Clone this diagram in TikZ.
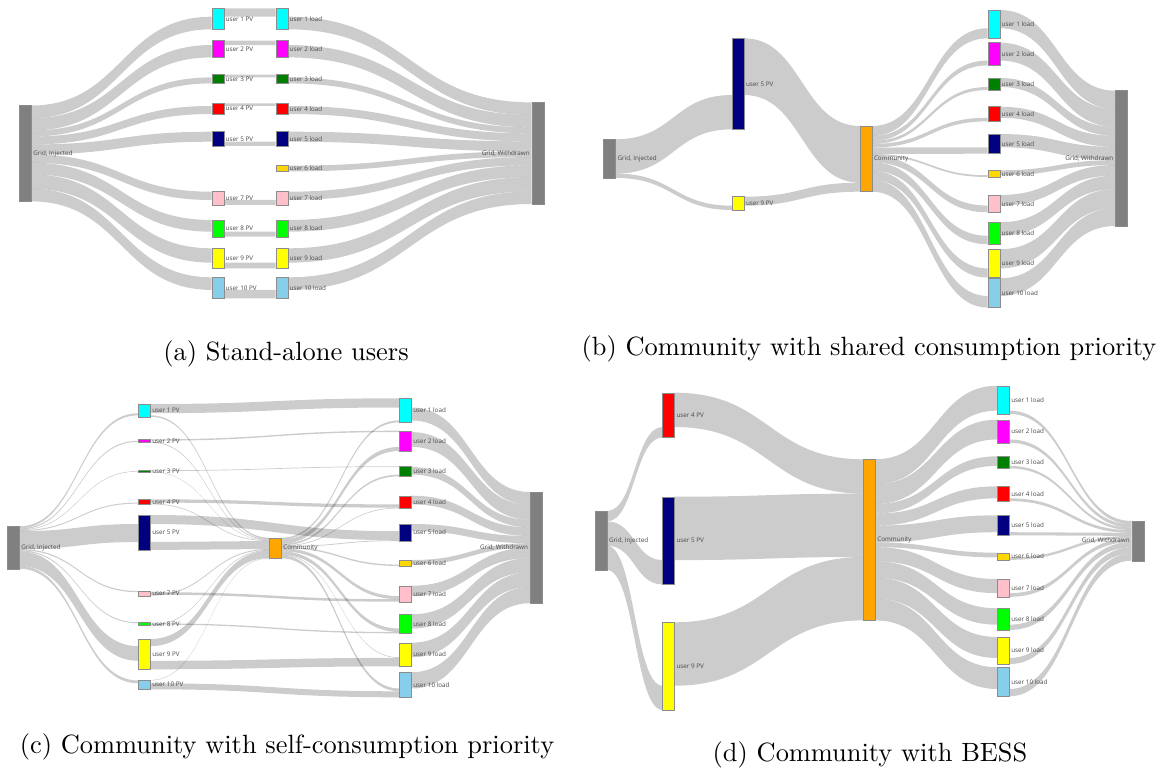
\documentclass[tikz,border=0pt]{standalone}
\usepackage{fontspec}
\newfontfamily\lblfamily{Open Sans}
\usetikzlibrary{calc}
\pgfdeclarelayer{bands}
\pgfsetlayers{bands,main}

\definecolor{gridgray}{HTML}{808080}
\definecolor{commorange}{HTML}{FFA500}
\definecolor{uA}{HTML}{00FFFF}
\definecolor{uB}{HTML}{FF00FF}
\definecolor{uC}{HTML}{008000}
\definecolor{uD}{HTML}{FF0000}
\definecolor{uE}{HTML}{000080}
\definecolor{uF}{HTML}{FFD700}
\definecolor{uG}{HTML}{FFC0CB}
\definecolor{uH}{HTML}{00FF00}
\definecolor{uI}{HTML}{FFFF00}
\definecolor{uJ}{HTML}{87CEEB}

\newcommand\lblfont{\lblfamily\fontsize{6.3}{7}\selectfont}

\tikzset{
  flow/.style={fill=black, fill opacity=0.2},
  nodebox/.style={draw=black!45, line width=0.4pt, minimum width=12pt,
    inner sep=0pt, outer sep=0pt, anchor=north west},
  lbl/.style={font=\lblfont, text=black!72, inner sep=0pt, outer sep=0pt},
  subcaption/.style={scale=2.64, inner sep=0pt}
}

% node box with its label on the right
\newcommand\sknode[6]{%
  \node[nodebox, fill=#5, minimum height=#4pt] (#1) at (#2,#3) {};
  \node[lbl, anchor=west, xshift=2pt] (#1-t) at (#1.east) {#6};
}
% node box with its label on the left
\newcommand\sknodew[6]{%
  \node[nodebox, fill=#5, minimum height=#4pt] (#1) at (#2,#3) {};
  \node[lbl, anchor=east, xshift=-2pt] (#1-t) at (#1.west) {#6};
}
% flow band: source, offset on source, width, target, offset on target
\newcommand\flowband[5]{%
  \coordinate (fA) at ([yshift=-#2pt]#1.north east);
  \coordinate (fB) at ([yshift=-#2pt-#3pt]#1.north east);
  \coordinate (fC) at ([yshift=-#5pt]#4.north west);
  \coordinate (fD) at ([yshift=-#5pt-#3pt]#4.north west);
  \coordinate (fM) at ($(fA)!0.5!(fC)$);
  \begin{pgfonlayer}{bands}
  \fill[flow] (fA) .. controls (fM|-fA) and (fM|-fC) .. (fC) -- (fD)
    .. controls (fM|-fD) and (fM|-fB) .. (fB) -- cycle;
  \end{pgfonlayer}
}

\begin{document}
\begin{tikzpicture}[x=1pt, y=-1pt]
\useasboundingbox (0,0) rectangle (1168,773);

% ================= (a) stand-alone users =================
\sknode{aGI}{19.3}{105.5}{95.9}{gridgray}{Grid, Injected}
\sknode{aP1}{211.7}{8.3}{21}{uA}{user 1 PV}
\sknode{aP2}{211.7}{40.7}{16.7}{uB}{user 2 PV}
\sknode{aP3}{211.7}{74.7}{8.7}{uC}{user 3 PV}
\sknode{aP4}{211.7}{103.3}{10.7}{uD}{user 4 PV}
\sknode{aP5}{211.7}{131.7}{14.3}{uE}{user 5 PV}
\sknode{aP7}{211.7}{191.7}{13.3}{uG}{user 7 PV}
\sknode{aP8}{211.7}{220}{16.7}{uH}{user 8 PV}
\sknode{aP9}{211.7}{248.3}{20}{uI}{user 9 PV}
\sknode{aP10}{211.7}{277.3}{21}{uJ}{user 10 PV}
\sknode{aL1}{275.7}{8.3}{21}{uA}{user 1 load}
\sknode{aL2}{275.7}{40.7}{16.7}{uB}{user 2 load}
\sknode{aL3}{275.7}{74.7}{8.7}{uC}{user 3 load}
\sknode{aL4}{275.7}{103.3}{10.7}{uD}{user 4 load}
\sknode{aL5}{275.7}{131.7}{14.3}{uE}{user 5 load}
\sknode{aL6}{275.7}{165.7}{5.7}{uF}{user 6 load}
\sknode{aL7}{275.7}{191.7}{13.3}{uG}{user 7 load}
\sknode{aL8}{275.7}{220}{16.7}{uH}{user 8 load}
\sknode{aL9}{275.7}{248.3}{20}{uI}{user 9 load}
\sknode{aL10}{275.7}{277.3}{21}{uJ}{user 10 load}
\sknodew{aGW}{531.7}{102.4}{101.6}{gridgray}{Grid, Withdrawn}

% flows of (a)
\flowband{aGI}{0}{12.6}{aP1}{8.4}     \flowband{aP1}{0}{8.4}{aL1}{0}      \flowband{aL1}{8.4}{12.6}{aGW}{0}
\flowband{aGI}{12.6}{12.35}{aP2}{4.35} \flowband{aP2}{0}{4.35}{aL2}{0}    \flowband{aL2}{4.35}{12.35}{aGW}{12.6}
\flowband{aGI}{24.95}{6}{aP3}{2.7}    \flowband{aP3}{0}{2.7}{aL3}{0}      \flowband{aL3}{2.7}{6}{aGW}{24.95}
\flowband{aGI}{30.95}{8}{aP4}{2.7}    \flowband{aP4}{0}{2.7}{aL4}{0}      \flowband{aL4}{2.7}{8}{aGW}{30.95}
\flowband{aGI}{38.95}{10}{aP5}{0}     \flowband{aP5}{10}{4.3}{aL5}{10}    \flowband{aL5}{0}{10}{aGW}{38.95}
\flowband{aL6}{0}{5.7}{aGW}{48.95}
\flowband{aGI}{48.95}{8.3}{aP7}{0}    \flowband{aP7}{8.3}{5}{aL7}{8.3}    \flowband{aL7}{0}{8.3}{aGW}{54.65}
\flowband{aGI}{57.25}{11.7}{aP8}{0}   \flowband{aP8}{11.7}{5}{aL8}{11.7}  \flowband{aL8}{0}{11.7}{aGW}{62.95}
\flowband{aGI}{68.95}{14.35}{aP9}{0}  \flowband{aP9}{14.35}{5.65}{aL9}{14.35} \flowband{aL9}{0}{14.35}{aGW}{74.65}
\flowband{aGI}{83.3}{12.6}{aP10}{0}   \flowband{aP10}{12.6}{8.4}{aL10}{12.6}  \flowband{aL10}{0}{12.6}{aGW}{89}

% ================= (b) shared consumption priority =================
\sknode{bGI}{603.6}{139.3}{38.6}{gridgray}{Grid, Injected}
\sknode{bP5}{732}{38.3}{91}{uE}{user 5 PV}
\sknode{bP9}{732}{196.7}{13.3}{uI}{user 9 PV}
\sknode{bC}{860}{126}{65.7}{commorange}{Community}
\sknode{bL1}{987.7}{10}{28.3}{uA}{user 1 load}
\sknode{bL2}{987.7}{42.7}{22.7}{uB}{user 2 load}
\sknode{bL3}{987.7}{78}{12}{uC}{user 3 load}
\sknode{bL4}{987.7}{106.7}{14.7}{uD}{user 4 load}
\sknode{bL5}{987.7}{134}{19.7}{uE}{user 5 load}
\sknode{bL6}{987.7}{170.3}{6.7}{uF}{user 6 load}
\sknode{bL7}{987.7}{195}{17.3}{uG}{user 7 load}
\sknode{bL8}{987.7}{222.3}{22}{uH}{user 8 load}
\sknode{bL9}{987.7}{249.3}{28.3}{uI}{user 9 load}
\sknode{bL10}{987.7}{278.3}{29.3}{uJ}{user 10 load}
\sknodew{bGW}{1115.3}{90.7}{135.3}{gridgray}{Grid, Withdrawn}

\flowband{bGI}{0}{34.3}{bP5}{56.7}
\flowband{bGI}{34.3}{4.3}{bP9}{9}
\flowband{bP5}{0}{56.7}{bC}{0}
\flowband{bP9}{0}{9}{bC}{56.7}
\flowband{bC}{0}{10.05}{bL1}{18.25}    \flowband{bL1}{0}{18.25}{bGW}{0}
\flowband{bC}{10.05}{4.85}{bL2}{17.85} \flowband{bL2}{0}{17.85}{bGW}{18.25}
\flowband{bC}{14.9}{3}{bL3}{9}         \flowband{bL3}{0}{9}{bGW}{36.1}
\flowband{bC}{17.9}{3.65}{bL4}{11.05}  \flowband{bL4}{0}{11.05}{bGW}{45.1}
\flowband{bC}{21.55}{6.4}{bL5}{13.3}   \flowband{bL5}{0}{13.3}{bGW}{56.15}
\flowband{bC}{27.95}{1.8}{bL6}{4.9}    \flowband{bL6}{0}{4.9}{bGW}{69.45}
\flowband{bC}{29.75}{6.7}{bL7}{10.6}   \flowband{bL7}{0}{10.6}{bGW}{74.35}
\flowband{bC}{36.45}{8.5}{bL8}{13.5}   \flowband{bL8}{0}{13.5}{bGW}{84.95}
\flowband{bC}{44.95}{9.15}{bL9}{19.15} \flowband{bL9}{0}{19.15}{bGW}{98.45}
\flowband{bC}{54.1}{11.6}{bL10}{17.7}  \flowband{bL10}{0}{17.7}{bGW}{117.6}

% ================= (c) self-consumption priority =================
\sknode{cGI}{7.3}{526.3}{42.4}{gridgray}{Grid, Injected}
\sknode{cP1}{138.3}{404}{12.7}{uA}{user 1 PV}
\sknode{cP2}{138.3}{439.3}{3.3}{uB}{user 2 PV}
\sknode{cP3}{138.3}{470.3}{1.7}{uC}{user 3 PV}
\sknode{cP4}{138.3}{499.3}{5}{uD}{user 4 PV}
\sknode{cP5}{138.3}{515}{35}{uE}{user 5 PV}
\sknode{cP7}{138.3}{591}{4.7}{uG}{user 7 PV}
\sknode{cP8}{138.3}{622.3}{3}{uH}{user 8 PV}
\sknode{cP9}{138.3}{639}{30.3}{uI}{user 9 PV}
\sknode{cP10}{138.3}{680}{9.3}{uJ}{user 10 PV}
\sknode{cC}{269.3}{537.7}{20.7}{commorange}{Community}
\sknode{cL1}{399.3}{398.3}{24}{uA}{user 1 load}
\sknode{cL2}{399.3}{430.7}{20.3}{uB}{user 2 load}
\sknode{cL3}{399.3}{466.3}{10}{uC}{user 3 load}
\sknode{cL4}{399.3}{495.7}{12.7}{uD}{user 4 load}
\sknode{cL5}{399.3}{524}{17}{uE}{user 5 load}
\sknode{cL6}{399.3}{560}{6}{uF}{user 6 load}
\sknode{cL7}{399.3}{585.7}{16}{uG}{user 7 load}
\sknode{cL8}{399.3}{614.3}{19}{uH}{user 8 load}
\sknode{cL9}{399.3}{642.7}{23.7}{uI}{user 9 load}
\sknode{cL10}{399.3}{672.3}{25}{uJ}{user 10 load}
\sknodew{cGW}{530}{492}{111.2}{gridgray}{Grid, Withdrawn}

% grid -> PV
\flowband{cGI}{0}{2.1}{cP1}{9.2}
\flowband{cGI}{2.1}{1.1}{cP2}{1.4}
\flowband{cGI}{3.2}{0.6}{cP3}{0.7}
\flowband{cGI}{3.8}{1.0}{cP4}{3.3}
\flowband{cGI}{4.8}{18}{cP5}{9}
\flowband{cGI}{22.8}{1.2}{cP7}{0}
\flowband{cGI}{24.0}{1.0}{cP8}{0}
\flowband{cGI}{25.0}{14.6}{cP9}{7.2}
\flowband{cGI}{39.6}{2.8}{cP10}{0.5}
% PV -> own load
\flowband{cP1}{0}{9.2}{cL1}{0}
\flowband{cP2}{0}{1.4}{cL2}{0}
\flowband{cP3}{0}{0.7}{cL3}{0}
\flowband{cP4}{0}{3.3}{cL4}{8.7}
\flowband{cP5}{0}{9}{cL5}{7.2}
\flowband{cP7}{1.2}{2.5}{cL7}{13.5}
\flowband{cP8}{1.0}{1.3}{cL8}{17.7}
\flowband{cP9}{21.8}{8.5}{cL9}{15.2}
\flowband{cP10}{3.3}{6}{cL10}{19}
% PV -> community
\flowband{cP1}{11.3}{1.4}{cC}{0}
\flowband{cP2}{2.5}{0.8}{cC}{1.4}
\flowband{cP3}{1.3}{0.4}{cC}{2.2}
\flowband{cP4}{4.3}{0.7}{cC}{2.6}
\flowband{cP5}{27}{8}{cC}{3.3}
\flowband{cP7}{3.7}{1.0}{cC}{11.3}
\flowband{cP8}{2.3}{0.7}{cC}{12.3}
\flowband{cP9}{0}{7.2}{cC}{13.0}
\flowband{cP10}{0}{0.5}{cC}{20.2}
% community -> loads
\flowband{cC}{0}{1.9}{cL1}{22.1}
\flowband{cC}{1.9}{4.1}{cL2}{16.2}
\flowband{cC}{6.0}{1.7}{cL3}{8.3}
\flowband{cC}{7.7}{0.7}{cL4}{12.0}
\flowband{cC}{8.4}{0.8}{cL5}{16.2}
\flowband{cC}{9.2}{1.4}{cL6}{4.6}
\flowband{cC}{10.6}{3.1}{cL7}{10.4}
\flowband{cC}{13.7}{3.5}{cL8}{14.2}
\flowband{cC}{17.2}{0.6}{cL9}{14.6}
\flowband{cC}{17.8}{2.8}{cL10}{16.2}
% loads -> grid
\flowband{cL1}{9.2}{12.9}{cGW}{0}
\flowband{cL2}{1.4}{14.8}{cGW}{12.9}
\flowband{cL3}{0.7}{7.6}{cGW}{27.7}
\flowband{cL4}{0}{8.7}{cGW}{35.3}
\flowband{cL5}{0}{7.2}{cGW}{44.0}
\flowband{cL6}{0}{4.6}{cGW}{51.2}
\flowband{cL7}{0}{10.4}{cGW}{55.8}
\flowband{cL8}{0}{14.2}{cGW}{66.2}
\flowband{cL9}{0}{14.6}{cGW}{80.4}
\flowband{cL10}{0}{16.2}{cGW}{95.0}

% ================= (d) community with BESS =================
\sknode{dGI}{595}{511}{59}{gridgray}{Grid, Injected}
\sknode{dP4}{662.5}{392.7}{44.7}{uD}{user 4 PV}
\sknode{dP5}{662.5}{496.7}{87.7}{uE}{user 5 PV}
\sknode{dP9}{662.5}{622.3}{87.7}{uI}{user 9 PV}
\sknode{dC}{863.3}{459.3}{161.1}{commorange}{Community}
\sknode{dL1}{997.3}{385.7}{28.2}{uA}{user 1 load}
\sknode{dL2}{997.3}{419.7}{23.05}{uB}{user 2 load}
\sknode{dL3}{997.3}{456.3}{12.05}{uC}{user 3 load}
\sknode{dL4}{997.3}{486.3}{14.8}{uD}{user 4 load}
\sknode{dL5}{997.3}{515.3}{19.95}{uE}{user 5 load}
\sknode{dL6}{997.3}{552.7}{7.15}{uF}{user 6 load}
\sknode{dL7}{997.3}{579}{17.85}{uG}{user 7 load}
\sknode{dL8}{997.3}{608.3}{21.65}{uH}{user 8 load}
\sknode{dL9}{997.3}{637}{27.1}{uI}{user 9 load}
\sknode{dL10}{997.3}{667.3}{29}{uJ}{user 10 load}
\sknodew{dGW}{1131.7}{521}{39.7}{gridgray}{Grid, Withdrawn}

\flowband{dGI}{0}{10.4}{dP4}{34.3}
\flowband{dGI}{10.4}{24.3}{dP5}{63.4}
\flowband{dGI}{34.7}{24.3}{dP9}{63.4}
\flowband{dP4}{0}{34.3}{dC}{0}
\flowband{dP5}{0}{63.4}{dC}{34.3}
\flowband{dP9}{0}{63.4}{dC}{97.7}
\flowband{dC}{0}{24.9}{dL1}{0}       \flowband{dL1}{24.9}{3.3}{dGW}{0}
\flowband{dC}{24.9}{19.75}{dL2}{0}   \flowband{dL2}{19.75}{3.3}{dGW}{3.3}
\flowband{dC}{44.65}{9.6}{dL3}{0}    \flowband{dL3}{9.6}{2.45}{dGW}{6.6}
\flowband{dC}{54.25}{12}{dL4}{0}     \flowband{dL4}{12}{2.8}{dGW}{9.05}
\flowband{dC}{66.25}{16.9}{dL5}{0}   \flowband{dL5}{16.9}{3.05}{dGW}{11.85}
\flowband{dC}{83.15}{4.7}{dL6}{0}    \flowband{dL6}{4.7}{2.45}{dGW}{14.9}
\flowband{dC}{87.85}{14.15}{dL7}{0}  \flowband{dL7}{14.15}{3.7}{dGW}{17.35}
\flowband{dC}{102.0}{16.4}{dL8}{0}   \flowband{dL8}{16.4}{5.25}{dGW}{21.05}
\flowband{dC}{118.4}{21}{dL9}{0}     \flowband{dL9}{21}{6.1}{dGW}{26.3}
\flowband{dC}{139.4}{21.7}{dL10}{0}  \flowband{dL10}{21.7}{7.3}{dGW}{32.4}

% ================= captions =================
\node[subcaption] (capa) at (286,354) {(a) Stand-alone users};
\node[subcaption] (capb) at (869,349) {(b) Community with shared consumption priority};
\node[subcaption] (capc) at (287,747) {(c) Community with self-consumption priority};
\node[subcaption] (capd) at (870,755) {(d) Community with BESS};
\end{tikzpicture}
\end{document}
